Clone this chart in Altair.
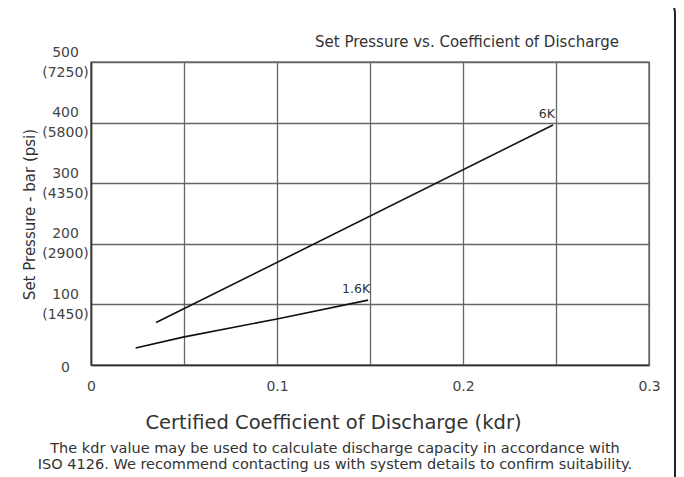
import altair as alt
import pandas as pd

# ---- data ----
series_names = ["6K", "1.6K"]
kdr_6k = [0.035, 0.2484]
bar_6k = [70, 396]
kdr_16k = [0.024, 0.0495, 0.1, 0.149]
bar_16k = [28, 46, 76, 107]

bar_ticks = [0, 100, 200, 300, 400, 500]
psi_ticks = ["", "(1450)", "(2900)", "(4350)", "(5800)", "(7250)"]
kdr_grid = [0, 0.05, 0.1, 0.15, 0.2, 0.25, 0.3]
kdr_labels = ["0", "0.1", "0.2", "0.3"]

title_text = "Set Pressure vs. Coefficient of Discharge"
x_title = "Certified Coefficient of Discharge (kdr)"
y_title = "Set Pressure - bar (psi)"
caption_lines = [
    "The kdr value may be used to calculate discharge capacity in accordance with",
    "ISO 4126. We recommend contacting us with system details to confirm suitability.",
]

FONT = "DejaVu Sans"
INK = "#333333"

rows = []
for i, (k, b) in enumerate(zip(kdr_6k, bar_6k)):
    rows.append({"series": series_names[0], "kdr": k, "bar": b, "order": i})
for i, (k, b) in enumerate(zip(kdr_16k, bar_16k)):
    rows.append({"series": series_names[1], "kdr": k, "bar": b, "order": i})
lines_df = pd.DataFrame(rows)

end_df = pd.DataFrame({
    "series": series_names,
    "kdr": [kdr_6k[-1], kdr_16k[-1]],
    "bar": [bar_6k[-1], bar_16k[-1]],
})

# y tick label expression (two-line labels: bar over psi)
y_expr = ""
for v, p in zip(bar_ticks, psi_ticks):
    if p:
        y_expr += f"datum.value == {v} ? ['{v}', '{p}'] : "
    else:
        y_expr += f"datum.value == {v} ? '{v}' : "
y_expr += "datum.label"

x_expr = "indexof([" + ",".join(f"'{s}'" for s in kdr_labels) + "], datum.label) >= 0 ? datum.label : ''"

W, H = 558, 303

x_enc = alt.X(
    "kdr:Q",
    scale=alt.Scale(domain=[0, 0.3], nice=False, zero=False),
    axis=alt.Axis(
        values=kdr_grid, format=".2~f", labelExpr=x_expr, title=x_title,
        grid=True, gridColor="#666666", gridWidth=1.3,
        ticks=False, tickSize=0, labelPadding=14, labelFontSize=14,
        labelColor="#444444", labelFont=FONT, labelOverlap=False, labelFlush=False,
        titleFont=FONT, titleFontSize=19.5, titleFontWeight="normal", titleColor=INK,
        titleX=242, titleY=57, titleBaseline="middle", titleAlign="center",
        domainColor="#333333", domainWidth=1.6,
    ),
)
y_enc = alt.Y(
    "bar:Q",
    scale=alt.Scale(domain=[0, 500], nice=False),
    axis=alt.Axis(
        values=bar_ticks, labelExpr=y_expr, title=y_title,
        grid=True, gridColor="#666666", gridWidth=1.3,
        ticks=False, tickSize=0, labelPadding=26, labelAlign="center",
        labelBaseline="middle", labelLineHeight=20, labelFontSize=14,
        labelOffset={"condition": {"test": "datum.value == 0", "value": 2}, "value": -10},
        labelColor="#444444", labelFont=FONT, labelOverlap=False, labelFlush=False,
        titleFont=FONT, titleFontSize=15, titleFontWeight="normal", titleColor=INK,
        titleX=-62, titleY=152, titleAngle=-90, titleBaseline="middle", titleAlign="center",
        domainColor="#333333", domainWidth=1.6,
    ),
)

lines = alt.Chart(lines_df).mark_line(color="#111111", strokeWidth=1.6).encode(
    x=x_enc, y=y_enc, detail="series:N", order="order:Q"
)

end_labels = alt.Chart(end_df).mark_text(
    align="right", baseline="bottom", dx=2, dy=-4, fontSize=12.5, font=FONT, color=INK
).encode(x="kdr:Q", y="bar:Q", text="series:N")

one_df = pd.DataFrame({"title": [title_text], "caption": ["\n".join(caption_lines)]})

title_mark = alt.Chart(one_df).mark_text(
    align="right", baseline="middle", fontSize=15, font=FONT, color=INK
).encode(x=alt.value(528), y=alt.value(-20), text="title:N")

caption = alt.Chart(one_df).mark_text(
    align="center", baseline="middle", lineBreak="\n", lineHeight=16,
    fontSize=14.5, font=FONT, color=INK
).encode(x=alt.value(244), y=alt.value(387), text="caption:N")

frame = alt.Chart(one_df).mark_rect(
    fillOpacity=0, stroke="#222222", strokeWidth=2, cornerRadius=14
).encode(x=alt.value(-300), x2=alt.value(584), y=alt.value(-63), y2=alt.value(700))

chart = alt.layer(frame, lines, end_labels, title_mark, caption).properties(
    width=W, height=H,
    autosize=alt.AutoSizeParams(type="none"),
    padding={"left": 83, "top": 54, "right": 27, "bottom": 112},
    background="white",
).configure_view(stroke="#777777", strokeWidth=1.5)

chart.save("out.html", embed_options={"renderer": "svg", "actions": False})
